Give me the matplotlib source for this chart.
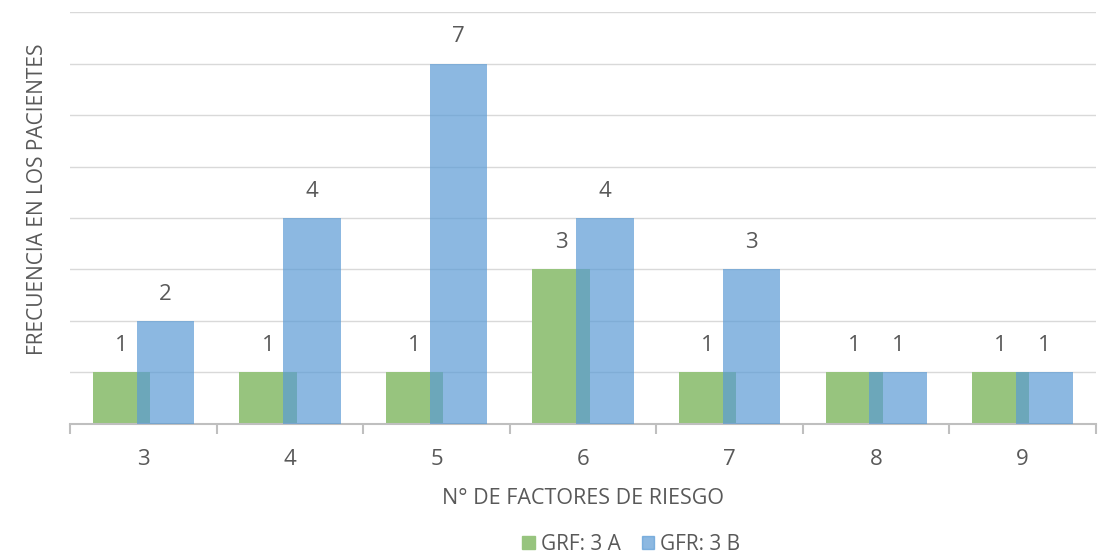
import numpy as np
import matplotlib.pyplot as plt
from matplotlib.patches import Patch

plt.rcParams['font.family'] = ['Open Sans', 'DejaVu Sans']

factores = ["3", "4", "5", "6", "7", "8", "9"]
grf_3a = [1, 1, 1, 3, 1, 1, 1]
gfr_3b = [2, 4, 7, 4, 3, 1, 1]

GREEN = "#97C47E"
BLUE = "#5B9BD5"
TEXT = "#595959"

fig = plt.figure(figsize=(10.98, 5.54), dpi=100)
ax = fig.add_axes([0.064, 0.235, 0.934, 0.743])

x = np.arange(len(factores))
w = 0.39
off = 0.15
ax.bar(x - off, grf_3a, w, color=GREEN, zorder=2)
ax.bar(x + off, gfr_3b, w, color=BLUE, alpha=0.7, zorder=3)

# etiquetas de valor encima de cada barra
for xi, v in zip(x, grf_3a):
    ax.text(xi - off, v + 0.52, str(v), ha='center', va='center', fontsize=16, color=TEXT)
for xi, v in zip(x, gfr_3b):
    ax.text(xi + off, v + 0.52, str(v), ha='center', va='center', fontsize=16, color=TEXT)

ax.set_xlim(-0.5, len(factores) - 0.5)
ax.set_ylim(0, 8)
ax.set_yticks(range(0, 9))
ax.set_yticklabels([])
ax.tick_params(axis='y', length=0)
ax.grid(axis='y', color='#D9D9D9', linewidth=1, zorder=0)
ax.set_axisbelow(True)

ax.set_xticks(x)
ax.set_xticklabels(factores, fontsize=16, color=TEXT)
ax.tick_params(axis='x', length=0, pad=18)
ax.set_xticks(np.arange(-0.5, len(factores)), minor=True)
ax.tick_params(axis='x', which='minor', length=7, color='#BFBFBF', width=1.5)

for s in ['top', 'right', 'left']:
    ax.spines[s].set_visible(False)
ax.spines['bottom'].set_color('#BFBFBF')
ax.spines['bottom'].set_linewidth(1.5)

ax.set_xlabel("N° DE FACTORES DE RIESGO", fontsize=15.5, color=TEXT, labelpad=13)
ax.set_ylabel("FRECUENCIA EN LOS PACIENTES", fontsize=15, color=TEXT)
ax.yaxis.set_label_coords(-0.022, 0.545)

handles = [Patch(color=GREEN, label="GRF: 3 A"), Patch(color=BLUE, alpha=0.7, label="GFR: 3 B")]
fig.legend(handles=handles, loc='lower center', bbox_to_anchor=(0.575, -0.035), ncol=2,
           frameon=False, fontsize=15, labelcolor=TEXT, handlelength=0.6, handleheight=0.6,
           handletextpad=0.3, columnspacing=1.0)

fig.savefig("out.png", dpi=100)
